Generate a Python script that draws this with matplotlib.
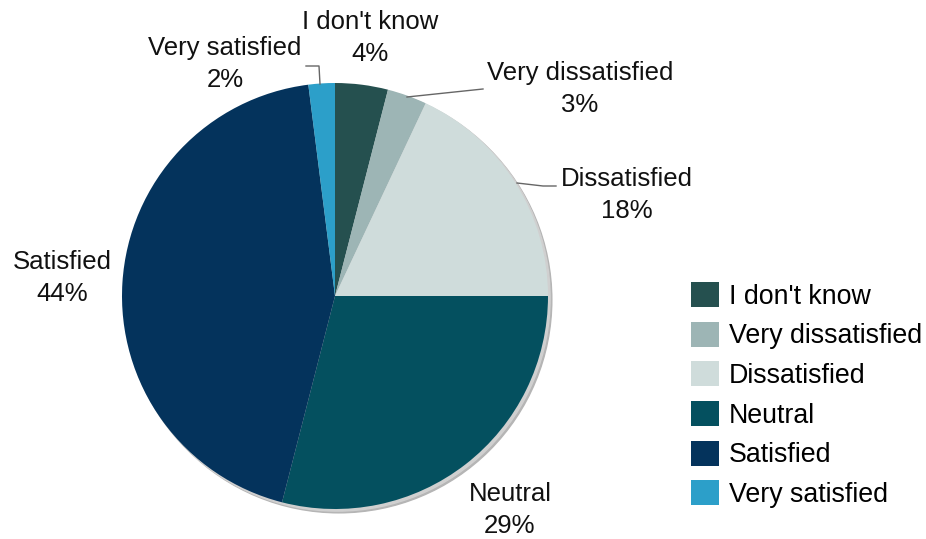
import matplotlib
matplotlib.use("Agg")
import matplotlib.pyplot as plt
from matplotlib.patches import Circle, Patch

categories = ["I don't know", "Very dissatisfied", "Dissatisfied", "Neutral", "Satisfied", "Very satisfied"]
values = [4, 3, 18, 29, 44, 2]
colors = ["#25504f", "#9db5b5", "#cfdcdb", "#04505f", "#04335c", "#2c9fc9"]
pct_labels = [f"{v}%" for v in values]

W, H = 926, 539
fig = plt.figure(figsize=(W / 100, H / 100), dpi=100)
plt.rcParams['font.family'] = ['Liberation Sans', 'DejaVu Sans']

cx, cy, R = 335, 296, 213
ax = fig.add_axes([(cx - R) / W, (H - cy - R) / H, 2 * R / W, 2 * R / H])

# shadow
ax.add_patch(Circle((0.018, -0.018), 1.0, color="#b5b5b5", zorder=0, clip_on=False))
ax.add_patch(Circle((0.010, -0.010), 1.0, color="#d0d0d0", zorder=0, clip_on=False))

wedges, _ = ax.pie(values, colors=colors, startangle=90, counterclock=False,
                   radius=1.0, wedgeprops=dict(linewidth=0))
for w in wedges:
    w.set_clip_on(False)
    w.set_zorder(1)

ax.set_xlim(-1, 1)
ax.set_ylim(-1, 1)
ax.set_aspect('equal')
ax.axis('off')

def d(px, py):
    return ((px - cx) / R, (cy - py) / R)

# label positions (pixel centers of two-line blocks)
label_pos = {
    "I don't know": (370, 38),
    "Very dissatisfied": (580, 89),
    "Dissatisfied": (627, 195),
    "Neutral": (510, 510),
    "Satisfied": (62, 278),
    "Very satisfied": (225, 64),
}
for cat, pct in zip(categories, pct_labels):
    x, y = d(*label_pos[cat])
    ax.text(x, y, f"{cat}\n{pct}", ha='center', va='center', fontsize=18.5,
            linespacing=1.42, color="#111111", clip_on=False)

leaders = [
    [(306, 66), (319, 66), (320, 84)],
    [(407, 97), (483, 89)],
    [(517, 183), (543, 186), (556, 186)],
]
for pts in leaders:
    xs, ys = zip(*[d(*p) for p in pts])
    ax.plot(xs, ys, color="#666666", lw=1, clip_on=False, zorder=3)

handles = [Patch(facecolor=c, edgecolor='none') for c in colors]
fig.legend(handles, categories, loc='center left', bbox_to_anchor=(691 / W, 1 - 395 / H),
           frameon=False, fontsize=19.3, handlelength=1.05, handleheight=1.05,
           handletextpad=0.35, labelspacing=0.45, borderpad=0, borderaxespad=0)

fig.savefig("out.png", dpi=100, facecolor='white')
